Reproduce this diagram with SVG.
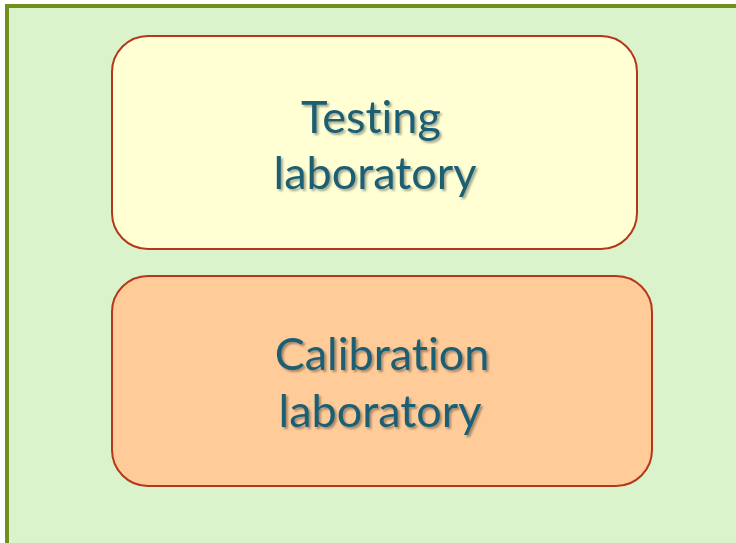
<svg xmlns="http://www.w3.org/2000/svg" width="736" height="543" viewBox="0 0 736 543">
<defs>
<style>
.box{stroke:#B5361A;stroke-width:2}
.lbl{font-family:Lato,"Open Sans","Liberation Sans",sans-serif;font-size:45px;fill:#1B5F74;text-anchor:middle;filter:url(#sh);font-variant-ligatures:none;font-feature-settings:"liga" 0,"dlig" 0}
</style>
<filter id="sh" x="-10%" y="-20%" width="130%" height="150%">
<feDropShadow dx="2" dy="2" stdDeviation="1.2" flood-color="#000" flood-opacity="0.35"/>
</filter>
</defs>
<rect x="7" y="6" width="740" height="550" fill="#DAF3CB" stroke="#6F901F" stroke-width="4"/>
<g id="testing">
<rect class="box" x="112" y="36" width="525" height="213" rx="36" fill="#FFFFD3"/>
<text class="lbl" x="371" y="133">Testing</text>
<text class="lbl" x="375" y="189">laboratory</text>
</g>
<g id="calibration">
<rect class="box" x="112" y="276" width="540" height="210" rx="36" fill="#FFCB99"/>
<text class="lbl" x="382" y="370">Calibration</text>
<text class="lbl" x="380" y="427">laboratory</text>
</g>
<g id="connectors"/>
</svg>
